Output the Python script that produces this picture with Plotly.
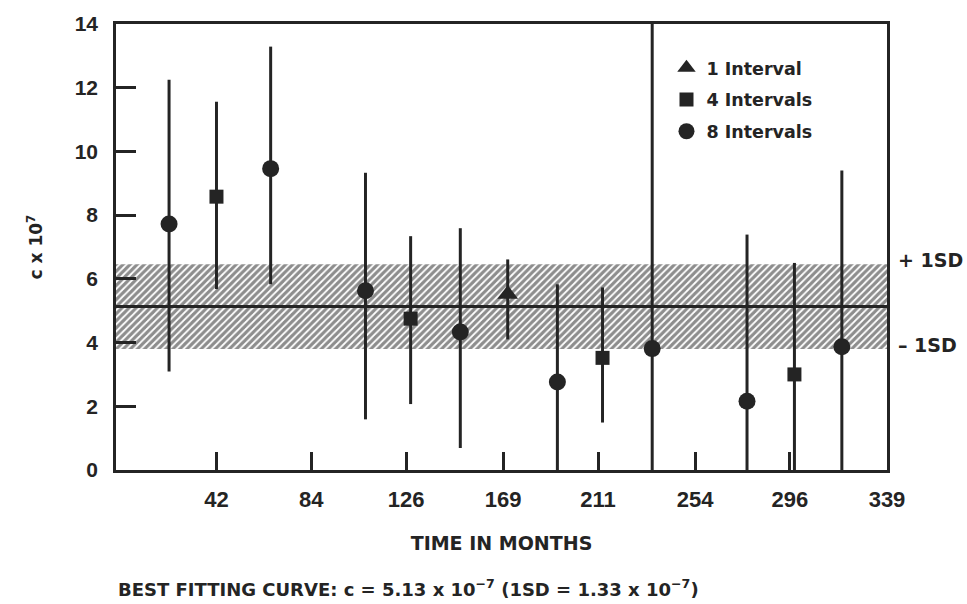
import plotly.graph_objects as go

# Estimates of c (x 10^7) with their ranges, by number of intervals
x_one = [171]
c_one = [5.52]
lo_one = [4.10]
hi_one = [6.61]

x_four = [42, 128, 213, 298]
c_four = [8.58, 4.75, 3.52, 3.00]
lo_four = [5.68, 2.07, 1.49, 0.0]
hi_four = [11.56, 7.34, 5.73, 6.50]

x_eight = [21, 66, 108, 150, 193, 235, 277, 319]
c_eight = [7.72, 9.46, 5.63, 4.33, 2.76, 3.81, 2.16, 3.87]
lo_eight = [3.09, 5.83, 1.59, 0.69, 0.0, 0.0, 0.0, 0.0]
hi_eight = [12.25, 13.29, 9.33, 7.59, 5.83, 14.0, 7.39, 9.40]

# Best fitting constant and its standard deviation (x 10^7)
best_fit = 5.13
one_sd = 1.33

x_ticks = [42, 84, 126, 169, 211, 254, 296, 339]
y_ticks = [0, 2, 4, 6, 8, 10, 12, 14]
x_range = [-2.5, 339]
y_range = [0, 14]

INK = "#242424"
NUM_FONT = "Liberation Sans"
TXT_FONT = "DejaVu Sans"


def bold(size, family=TXT_FONT):
    return dict(size=size, family=family, color=INK, weight="bold")


def err(vals, lows, highs):
    return dict(
        type="data",
        symmetric=False,
        array=[h - v for v, h in zip(vals, highs)],
        arrayminus=[v - l for v, l in zip(vals, lows)],
        thickness=3,
        width=0,
        color=INK,
    )


fig = go.Figure()

# Hatched band: best fit +/- 1 SD
fig.add_trace(go.Scatter(
    x=[x_range[0], x_range[1], x_range[1], x_range[0], x_range[0]],
    y=[best_fit - one_sd, best_fit - one_sd, best_fit + one_sd,
       best_fit + one_sd, best_fit - one_sd],
    fill="toself",
    fillcolor="white",
    fillpattern=dict(shape="/", size=5, solidity=0.65, fgcolor="#1c1c1c",
                     bgcolor="white"),
    line=dict(width=0),
    mode="lines",
    hoverinfo="skip",
    showlegend=False,
))

# Best fitting line
fig.add_trace(go.Scatter(
    x=x_range, y=[best_fit, best_fit], mode="lines",
    line=dict(color=INK, width=3), showlegend=False, hoverinfo="skip",
))

fig.add_trace(go.Scatter(
    x=x_one, y=c_one, mode="markers", name="1 Interval",
    legendgroup="g1",
    marker=dict(symbol="triangle-up", size=18, color=INK),
    error_y=err(c_one, lo_one, hi_one),
))
fig.add_trace(go.Scatter(
    x=x_four, y=c_four, mode="markers", name="4 Intervals",
    legendgroup="g4",
    marker=dict(symbol="square", size=14, color=INK),
    error_y=err(c_four, lo_four, hi_four),
))
fig.add_trace(go.Scatter(
    x=x_eight, y=c_eight, mode="markers", name="8 Intervals",
    legendgroup="g8",
    marker=dict(symbol="circle", size=17, color=INK),
    error_y=err(c_eight, lo_eight, hi_eight),
))

fig.update_layout(
    width=967,
    height=604,
    margin=dict(l=116, r=80, t=17, b=134),
    paper_bgcolor="white",
    plot_bgcolor="white",
    font=bold(16),
    legend=dict(
        x=0.714, y=0.942, xanchor="left", yanchor="top",
        bgcolor="rgba(0,0,0,0)",
        font=bold(17.5),
        tracegroupgap=6,
        traceorder="grouped",
    ),
    xaxis=dict(
        range=x_range,
        tickmode="array",
        tickvals=x_ticks,
        ticktext=[str(t) for t in x_ticks],
        ticks="inside",
        ticklen=18,
        tickwidth=2.5,
        tickcolor=INK,
        showline=True,
        linewidth=2.5,
        linecolor=INK,
        mirror=True,
        showgrid=False,
        zeroline=False,
        ticklabelstandoff=8,
        tickfont=bold(22, NUM_FONT),
        title=dict(text="TIME IN MONTHS", standoff=26, font=bold(19)),
    ),
    yaxis=dict(
        range=y_range,
        tickmode="array",
        tickvals=y_ticks,
        ticks="inside",
        ticklen=20,
        tickwidth=2.5,
        tickcolor=INK,
        showline=True,
        linewidth=2.5,
        linecolor=INK,
        mirror=True,
        showgrid=False,
        zeroline=False,
        ticklabelstandoff=11,
        tickfont=bold(21, NUM_FONT),
        title=dict(text="c x 10<sup>7</sup>", standoff=28, font=bold(17)),
    ),
)

# Labels for the band edges
fig.add_annotation(x=1.012, y=6.6, xref="paper", yref="y",
                   text="+ 1SD", showarrow=False, xanchor="left",
                   font=bold(19))
fig.add_annotation(x=1.012, y=3.91, xref="paper", yref="y",
                   text="\u2013 1SD", showarrow=False, xanchor="left",
                   font=bold(19))

# Caption with the fitted value
fig.add_annotation(
    x=0.0, y=-0.265, xref="paper", yref="paper", xanchor="left",
    yanchor="middle", showarrow=False,
    text=(f"BEST FITTING CURVE: c = {best_fit:.2f} x 10<sup>\u22127</sup> "
          f"(1SD = {one_sd:.2f} x 10<sup>\u22127</sup>)"),
    font=bold(18),
)

fig.write_html("out.html")
